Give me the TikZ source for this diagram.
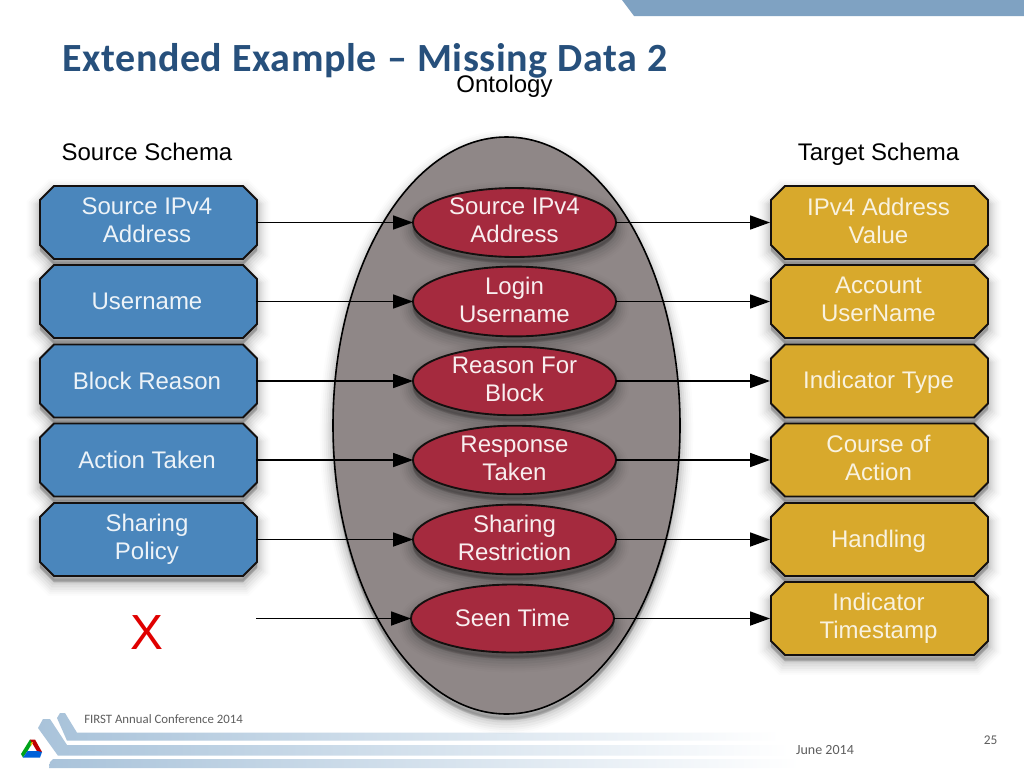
\documentclass[tikz,border=0pt]{standalone}
\usepackage{fontspec}
\setmainfont{Liberation Sans}
\newfontfamily\calib{Carlito}
\newfontfamily\calibtitle[LetterSpace=1.5,WordSpace=1.05]{Carlito}
\usetikzlibrary{shapes.geometric,arrows.meta}
\definecolor{titleblue}{HTML}{27507C}
\definecolor{bluefill}{HTML}{4A86BC}
\definecolor{goldfill}{HTML}{D8A92C}
\definecolor{redfill}{HTML}{A52A3E}
\definecolor{grayfill}{HTML}{8F8787}
\definecolor{band}{HTML}{A9C3DA}
\definecolor{topband}{HTML}{7FA2C2}
\definecolor{edge}{HTML}{14100F}
\definecolor{foot}{HTML}{5E5E5E}
\tikzset{
  softshadow/.style={
    preaction={draw=black,fill=black,line width=20pt,opacity=.012,transform canvas={yshift=-5pt}},
    preaction={draw=black,fill=black,line width=17pt,opacity=.018,transform canvas={yshift=-5pt}},
    preaction={draw=black,fill=black,line width=14pt,opacity=.024,transform canvas={yshift=-5pt}},
    preaction={draw=black,fill=black,line width=11pt,opacity=.03,transform canvas={yshift=-5pt}},
    preaction={draw=black,fill=black,line width=8pt,opacity=.04,transform canvas={yshift=-4.5pt}},
    preaction={draw=black,fill=black,line width=5pt,opacity=.05,transform canvas={yshift=-4pt}},
    preaction={draw=black,fill=black,line width=2pt,opacity=.07,transform canvas={yshift=-3.5pt}}},
  shapeline/.style={draw=edge,line width=1.4pt,line join=miter,softshadow},
  labeltext/.style={inner sep=0pt,outer sep=0pt,font=\fontsize{18}{21}\selectfont,align=center,
    execute at begin node={\rule{0pt}{15pt}},execute at end node={\rule[-3pt]{0pt}{3pt}}},
  boxslot/.style={rectangle,minimum width=162.75pt,minimum height=54pt,labeltext},
  srcbox/.style={boxslot,text=white!90!bluefill},
  tgtbox/.style={boxslot,text=white!85!goldfill},
  onto/.style={ellipse,minimum width=152.25pt,minimum height=51pt,labeltext,
    draw=edge,line width=1.4pt,softshadow,fill=redfill,text=white!92!redfill},
  big/.style={ellipse,minimum width=260.25pt,minimum height=432.75pt,inner sep=0pt,outer sep=0pt,
    draw=black,line width=1.2pt,softshadow,fill=grayfill},
  link/.style={draw=black,line width=1.3pt,-{Triangle[length=15pt,width=10.5pt]}},
  plain/.style={font=\fontsize{18}{21}\selectfont,text=black,inner sep=0pt,anchor=base},
  footer/.style={text=foot,inner sep=0pt}
}
% \octbox{fill colour}{x centre}{y centre}: the chamfered outline behind a box's label node
\newcommand{\octbox}[3]{%
  \path[shapeline,fill=#1]
    (#2-108.5,#3-22.5) -- (#2-94.5,#3-36.5) -- (#2+94.5,#3-36.5) -- (#2+108.5,#3-22.5)
    -- (#2+108.5,#3+22.5) -- (#2+94.5,#3+36.5) -- (#2-94.5,#3+36.5) -- (#2-108.5,#3+22.5) -- cycle;}
\begin{document}
\begin{tikzpicture}[x=.75pt,y=-.75pt]
\useasboundingbox (0,0) rectangle (1024,768);
\fill[white] (0,0) rectangle (1024,768);
% slide furniture
\fill[topband] (622,0) -- (634,16) -- (1024,16) -- (1024,0) -- cycle;
\shade[left color=band,right color=white]
  (57,718) -- (60,713) -- (65,713) -- (77,732.7) -- (780,732.7) -- (780,740.7) -- (67,740.7) -- cycle;
\shade[left color=band,right color=white]
  (38,728) -- (43,719) -- (50,719) -- (67,745) -- (790,745) -- (790,755.7) -- (58,755.7) -- cycle;
\shade[left color=band,right color=white]
  (49,768) -- (50,762) -- (53,759) -- (800,759) -- (800,768) -- cycle;
% logo
\fill[green!60!black!90!cyan] (30,739.5) -- (21,754) -- (23,757.5) -- (27.5,751) -- (33,742) -- cycle;
\fill[red!75!black] (30,739.5) -- (35,739.5) -- (42,752) -- (37.5,752) -- cycle;
\fill[blue!55!cyan!85!black] (23,757.5) -- (40,757.5) -- (42,752) -- (37.5,751) -- (27.5,751) -- cycle;
\fill[yellow!60!orange] (30.5,743) -- (33,742) -- (31,746) -- cycle;
\node[footer,font=\calib\fontsize{9.6}{11}\selectfont,anchor=west] (conf) at (84,719) {FIRST Annual Conference 2014};
\node[footer,font=\calib\fontsize{10.5}{12}\selectfont] (date) at (825,750) {June 2014};
\node[footer,font=\calib\fontsize{10}{12}\selectfont] (page) at (990.5,740) {25};
% title and headings
\node[font=\calibtitle\bfseries\fontsize{30}{33}\selectfont,text=titleblue,anchor=base west,inner sep=0pt] (title) at (62,71) {Extended Example – Missing Data 2};
\node[plain] (ontology) at (504.5,92) {Ontology};
\node[plain] (srchead) at (147,160) {Source Schema};
\node[plain] (tgthead) at (878.5,160) {Target Schema};
% ontology container
\node[big] (cloud) at (506.5,425.5) {};
% source
\octbox{bluefill}{148.5}{222.5}
\node[srcbox] (s1) at (147,222.5) {Source IPv4\\Address};
\octbox{bluefill}{148.5}{301.5}
\node[srcbox] (s2) at (147,301.5) {Username};
\octbox{bluefill}{148.5}{381}
\node[srcbox] (s3) at (147,381) {Block Reason};
\octbox{bluefill}{148.5}{460}
\node[srcbox] (s4) at (147,460) {Action Taken};
\octbox{bluefill}{148.5}{539.5}
\node[srcbox] (s5) at (147,539.5) {Sharing\\Policy};
\node[font=\fontsize{37}{40}\selectfont,text=red!88!black,inner sep=0pt] (x) at (147,633) {X};
\coordinate (s6) at (256,618.5);
% ontology
\node[onto] (o1) at (514.5,222.5) {Source IPv4\\Address};
\node[onto] (o2) at (514.5,301.5) {Login\\Username};
\node[onto] (o3) at (514.5,381) {Reason For\\Block};
\node[onto] (o4) at (514.5,460) {Response\\Taken};
\node[onto] (o5) at (514.5,539.5) {Sharing\\Restriction};
\node[onto] (o6) at (512.5,618.5) {Seen Time};
% target
\octbox{goldfill}{879.5}{222.5}
\node[tgtbox] (t1) at (878.5,222.5) {IPv4 Address\\Value};
\octbox{goldfill}{879.5}{301.5}
\node[tgtbox] (t2) at (878.5,301.5) {Account\\UserName};
\octbox{goldfill}{879.5}{381}
\node[tgtbox] (t3) at (878.5,381) {Indicator Type};
\octbox{goldfill}{879.5}{460}
\node[tgtbox] (t4) at (878.5,460) {Course of\\Action};
\octbox{goldfill}{879.5}{539.5}
\node[tgtbox] (t5) at (878.5,539.5) {Handling};
\octbox{goldfill}{879.5}{618.5}
\node[tgtbox] (t6) at (878.5,618.5) {Indicator\\Timestamp};
% connectors
\draw[link] (s1) -- (o1);
\draw[link] (s2) -- (o2);
\draw[link] (s3) -- (o3);
\draw[link] (s4) -- (o4);
\draw[link] (s5) -- (o5);
\draw[link] (s6) -- (o6);
\draw[link] (o1) -- (t1);
\draw[link] (o2) -- (t2);
\draw[link] (o3) -- (t3);
\draw[link] (o4) -- (t4);
\draw[link] (o5) -- (t5);
\draw[link] (o6) -- (t6);
\end{tikzpicture}
\end{document}
